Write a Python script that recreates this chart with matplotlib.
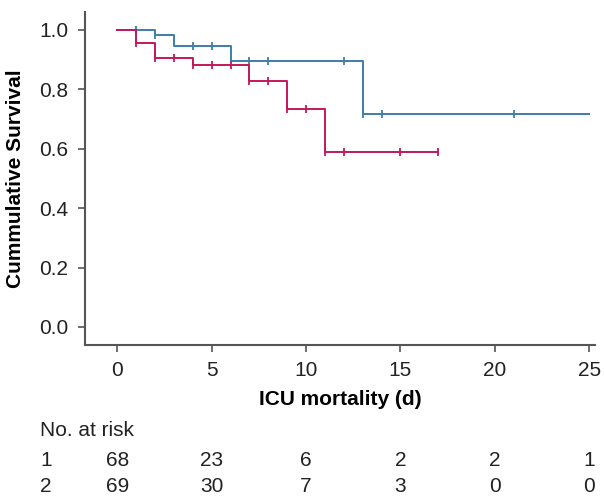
import numpy as np
import matplotlib.pyplot as plt

plt.rcParams['font.family'] = ['Liberation Sans', 'DejaVu Sans']

# Kaplan-Meier step data: (time, survival) after each step
t1 = [0, 2, 3, 6, 13, 25]
s1 = [1.0, 0.982, 0.945, 0.894, 0.716, 0.716]
c1_t = [1, 2, 4, 5, 7, 8, 12, 13, 14, 21]
c1_s = [1.0, 0.982, 0.945, 0.945, 0.894, 0.894, 0.894, 0.716, 0.716, 0.716]

t2 = [0, 1, 2, 4, 7, 9, 11, 17]
s2 = [1.0, 0.955, 0.906, 0.880, 0.827, 0.735, 0.589, 0.589]
c2_t = [1, 2, 3, 4, 5, 6, 7, 8, 9, 10, 11, 12, 15, 17]
c2_s = [0.955, 0.906, 0.906, 0.880, 0.880, 0.880, 0.827, 0.827, 0.735, 0.735,
        0.589, 0.589, 0.589, 0.589]

risk_times = [0, 5, 10, 15, 20, 25]
risk1 = [68, 23, 6, 2, 2, 1]
risk2 = [69, 30, 7, 3, 0, 0]

blue = '#3d7fa8'
red = '#c2185b'
grey = '#555555'
fs = 15

fig = plt.figure( figsize = ( 6.04, 4.99 ), dpi = 100 )
ax = fig.add_axes( [ 0.141, 0.309, 0.844, 0.667 ] )

ax.step( t1, s1, where = 'post', c = blue, lw = 1.4 )
ax.plot( c1_t, c1_s, ls = 'none', marker = '|', ms = 6, mew = 1.3, c = blue )
ax.step( t2, s2, where = 'post', c = red, lw = 1.4 )
ax.plot( c2_t, c2_s, ls = 'none', marker = '|', ms = 6, mew = 1.3, c = red )

ax.set_xlim( -1.7, 25.3 )
ax.set_ylim( -0.06, 1.06 )
ax.set_xticks( risk_times )
ax.set_yticks( np.arange( 0, 1.01, 0.2 ) )
ax.set_yticklabels( [ '{:.1f}'.format( v ) for v in np.arange( 0, 1.01, 0.2 ) ] )

for s in [ 'top', 'right' ]:
    ax.spines[s].set_visible( False )
for s in [ 'left', 'bottom' ]:
    ax.spines[s].set_color( grey )
    ax.spines[s].set_linewidth( 1.5 )

ax.tick_params( colors = '#222222', labelsize = fs, length = 5, width = 1.2,
                color = grey, pad = 7 )

ax.set_xlabel( 'ICU mortality (d)', fontsize = fs, fontweight = 'bold', labelpad = 7 )
ax.set_ylabel( 'Cummulative Survival', fontsize = fs, fontweight = 'bold', labelpad = 10 )

# number at risk table
fig.text( 40 / 604, 1 - 431 / 499, 'No. at risk', fontsize = fs, va = 'center', color = '#222222' )
fig.text( 40 / 604, 1 - 461 / 499, '1', fontsize = fs, va = 'center', color = '#222222' )
fig.text( 40 / 604, 1 - 487 / 499, '2', fontsize = fs, va = 'center', color = '#222222' )
for x, a, b in zip( risk_times, risk1, risk2 ):
    xf = fig.transFigure.inverted().transform( ax.transData.transform( ( x, 0 ) ) )[0]
    fig.text( xf, 1 - 461 / 499, str( a ), fontsize = fs, ha = 'center', va = 'center', color = '#222222' )
    fig.text( xf, 1 - 487 / 499, str( b ), fontsize = fs, ha = 'center', va = 'center', color = '#222222' )

plt.savefig( 'out.png', dpi = 100 )
plt.close()
